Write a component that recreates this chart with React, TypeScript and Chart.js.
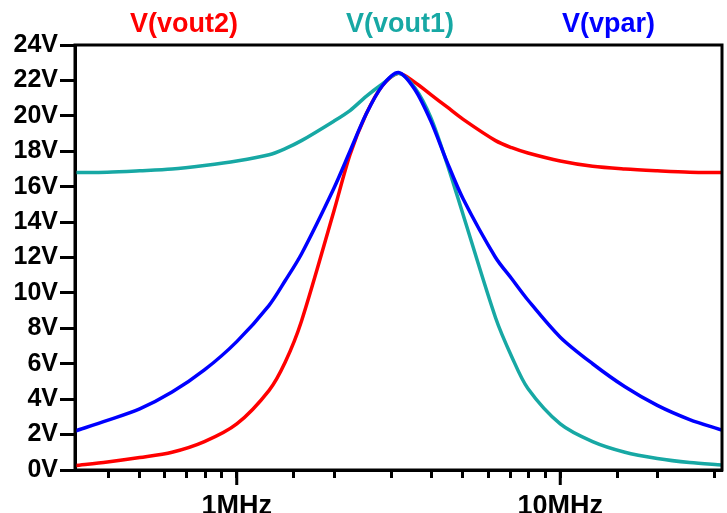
import React, { useEffect, useRef } from 'react';
import { Chart, registerables } from 'chart.js';

Chart.register(...registerables);

// Frequency points (Hz)
const freqsHz = [
  316228, 398107, 501187, 630957, 794328, 1000000, 1258925, 1412538, 1584893, 1995262,
  2238721, 2511886, 2818383, 3162278, 3548134, 3981072, 4466836, 5011872,
  6309573, 7079458, 7943282, 10000000, 12589254, 15848932, 19952623, 25118864, 31622777,
];

// Series values (V)
const vout2 = [
  0.25, 0.45, 0.7, 1.0, 1.6, 2.6, 4.5, 6.1, 8.4, 14.6,
  17.8, 20.1, 21.7, 22.4, 21.9, 21.2, 20.5, 19.8,
  18.6, 18.2, 17.9, 17.45, 17.15, 17.0, 16.9, 16.82, 16.8,
];
const vout1 = [
  16.8, 16.82, 16.9, 17.0, 17.2, 17.45, 17.8, 18.15, 18.6, 19.7,
  20.3, 21.1, 21.8, 22.4, 21.6, 19.9, 17.3, 14.4,
  8.6, 6.4, 4.6, 2.6, 1.6, 1.0, 0.65, 0.42, 0.28,
];
const vpar = [
  2.2, 2.8, 3.45, 4.4, 5.65, 7.25, 9.3, 10.7, 12.2, 15.9,
  18.0, 20.1, 21.7, 22.45, 21.5, 19.7, 17.4, 15.3,
  12.0, 10.8, 9.6, 7.5, 6.0, 4.7, 3.65, 2.85, 2.25,
];

const seriesLabels = ['V(vout2)', 'V(vout1)', 'V(vpar)'];
const seriesColors = ['#ff0000', '#17a8a4', '#0000ff'];
const seriesOrder = [2, 1, 0];

const yTicks = [0, 2, 4, 6, 8, 10, 12, 14, 16, 18, 20, 22, 24];
const xMin = 316228;
const xMax = 31622777;
const majorXTicks = [1000000, 10000000];
const majorXLabels = ['1MHz', '10MHz'];

function hasFont(name: string): boolean {
  const c = document.createElement('canvas').getContext('2d');
  if (!c) return false;
  const s = 'V(vout2)24V1MHz';
  c.font = 'bold 30px monospace';
  const a = c.measureText(s).width;
  c.font = `bold 30px '${name}', monospace`;
  const b = c.measureText(s).width;
  return Math.abs(a - b) > 0.5;
}

export default function App() {
  const ref = useRef<HTMLCanvasElement>(null);

  useEffect(() => {
    document.body.style.margin = '0';
    const narrow = hasFont('Liberation Sans Narrow');
    const family = narrow
      ? "'Liberation Sans Narrow', 'Liberation Sans', Arial, sans-serif"
      : "'Liberation Sans', Arial, sans-serif";
    const k = narrow ? 1.2 : 1;
    const legendSize = Math.round(27 * k);
    const yTickSize = Math.round(25 * k);
    const xTickSize = Math.round(27 * k);
    const legendBox = 91.5;
    const legendPad = 3;
    const legendFirstTextX = 130;

    const series = [vout2, vout1, vpar];

    const framePlugin = {
      id: 'frame',
      afterLayout(chart: any) {
        const lg = chart.legend;
        if (lg) {
          const shift = legendFirstTextX - (lg.left + legendPad + legendBox + legendSize / 2);
          lg.left += shift;
          lg.right += shift;
        }
      },
      afterDatasetsDraw(chart: any) {
        const { ctx, chartArea } = chart;
        const { left, top, right, bottom } = chartArea;
        ctx.save();
        ctx.strokeStyle = '#000';
        ctx.lineWidth = 3;
        ctx.strokeRect(left, top, right - left, bottom - top);
        const xs = chart.scales.x;
        ctx.beginPath();
        for (const v of majorXTicks) {
          const px = xs.getPixelForValue(v);
          ctx.moveTo(px, bottom);
          ctx.lineTo(px, bottom + 15);
        }
        ctx.stroke();
        ctx.restore();
      },
    };

    const chart = new Chart(ref.current as HTMLCanvasElement, {
      type: 'line',
      data: {
        datasets: series.map((vals, i) => ({
          label: seriesLabels[i],
          data: freqsHz.map((f, j) => ({ x: f, y: vals[j] })),
          borderColor: seriesColors[i],
          backgroundColor: seriesColors[i],
          borderWidth: 3.5,
          pointRadius: 0,
          fill: false,
          tension: 0.3,
          order: seriesOrder[i],
        })),
      },
      options: {
        animation: false,
        responsive: true,
        maintainAspectRatio: false,
        layout: { padding: { left: 0, top: 6, right: 5, bottom: 0 } },
        plugins: {
          tooltip: { enabled: false },
          legend: {
            display: true,
            position: 'top',
            align: 'start',
            maxHeight: 39,
            labels: {
              boxWidth: legendBox,
              boxHeight: 32,
              padding: legendPad,
              font: { family, size: legendSize, weight: 'bold' },
              generateLabels: (ch: any) =>
                ch.data.datasets.map((ds: any, i: number) => ({
                  text: ds.label,
                  fontColor: ds.borderColor,
                  fillStyle: 'rgba(0,0,0,0)',
                  strokeStyle: 'rgba(0,0,0,0)',
                  lineWidth: 0,
                  hidden: false,
                  datasetIndex: i,
                })),
            },
          },
        },
        scales: {
          x: {
            type: 'logarithmic',
            position: 'bottom',
            min: xMin,
            max: xMax,
            afterFit: (s: any) => {
              s.height = 43;
            },
            afterBuildTicks: (s: any) => {
              s.ticks = s.ticks.filter(
                (t: any) => t.value > xMin * 1.01 && t.value < xMax * 0.99
              );
            },
            ticks: {
              autoSkip: false,
              maxRotation: 0,
              minRotation: 0,
              padding: 12,
              color: '#000',
              font: { family, size: xTickSize, weight: 'bold' },
              callback: (v: any) => {
                const idx = majorXTicks.findIndex((m) => Math.abs(m - Number(v)) < 1);
                return idx >= 0 ? majorXLabels[idx] : '';
              },
            },
            grid: {
              drawOnChartArea: false,
              drawTicks: true,
              tickLength: 8,
              tickWidth: 3,
              tickColor: '#000',
            },
            border: { display: true, color: '#000', width: 3 },
          },
          y: {
            type: 'linear',
            min: 0,
            max: 24,
            afterFit: (s: any) => {
              s.width = 75;
            },
            afterBuildTicks: (s: any) => {
              s.ticks = yTicks.map((v) => ({ value: v }));
            },
            ticks: {
              padding: 2,
              color: '#000',
              font: { family, size: yTickSize, weight: 'bold' },
              callback: (v: any) => `${v}V`,
            },
            grid: {
              drawOnChartArea: false,
              drawTicks: true,
              tickLength: 15,
              tickWidth: 3,
              tickColor: '#000',
            },
            border: { display: true, color: '#000', width: 3 },
          },
        },
      },
      plugins: [framePlugin],
    } as any);

    return () => chart.destroy();
  }, []);

  return (
    <div style={{ position: 'fixed', left: 0, top: 0, width: 727, height: 513 }}>
      <canvas ref={ref} />
    </div>
  );
}
